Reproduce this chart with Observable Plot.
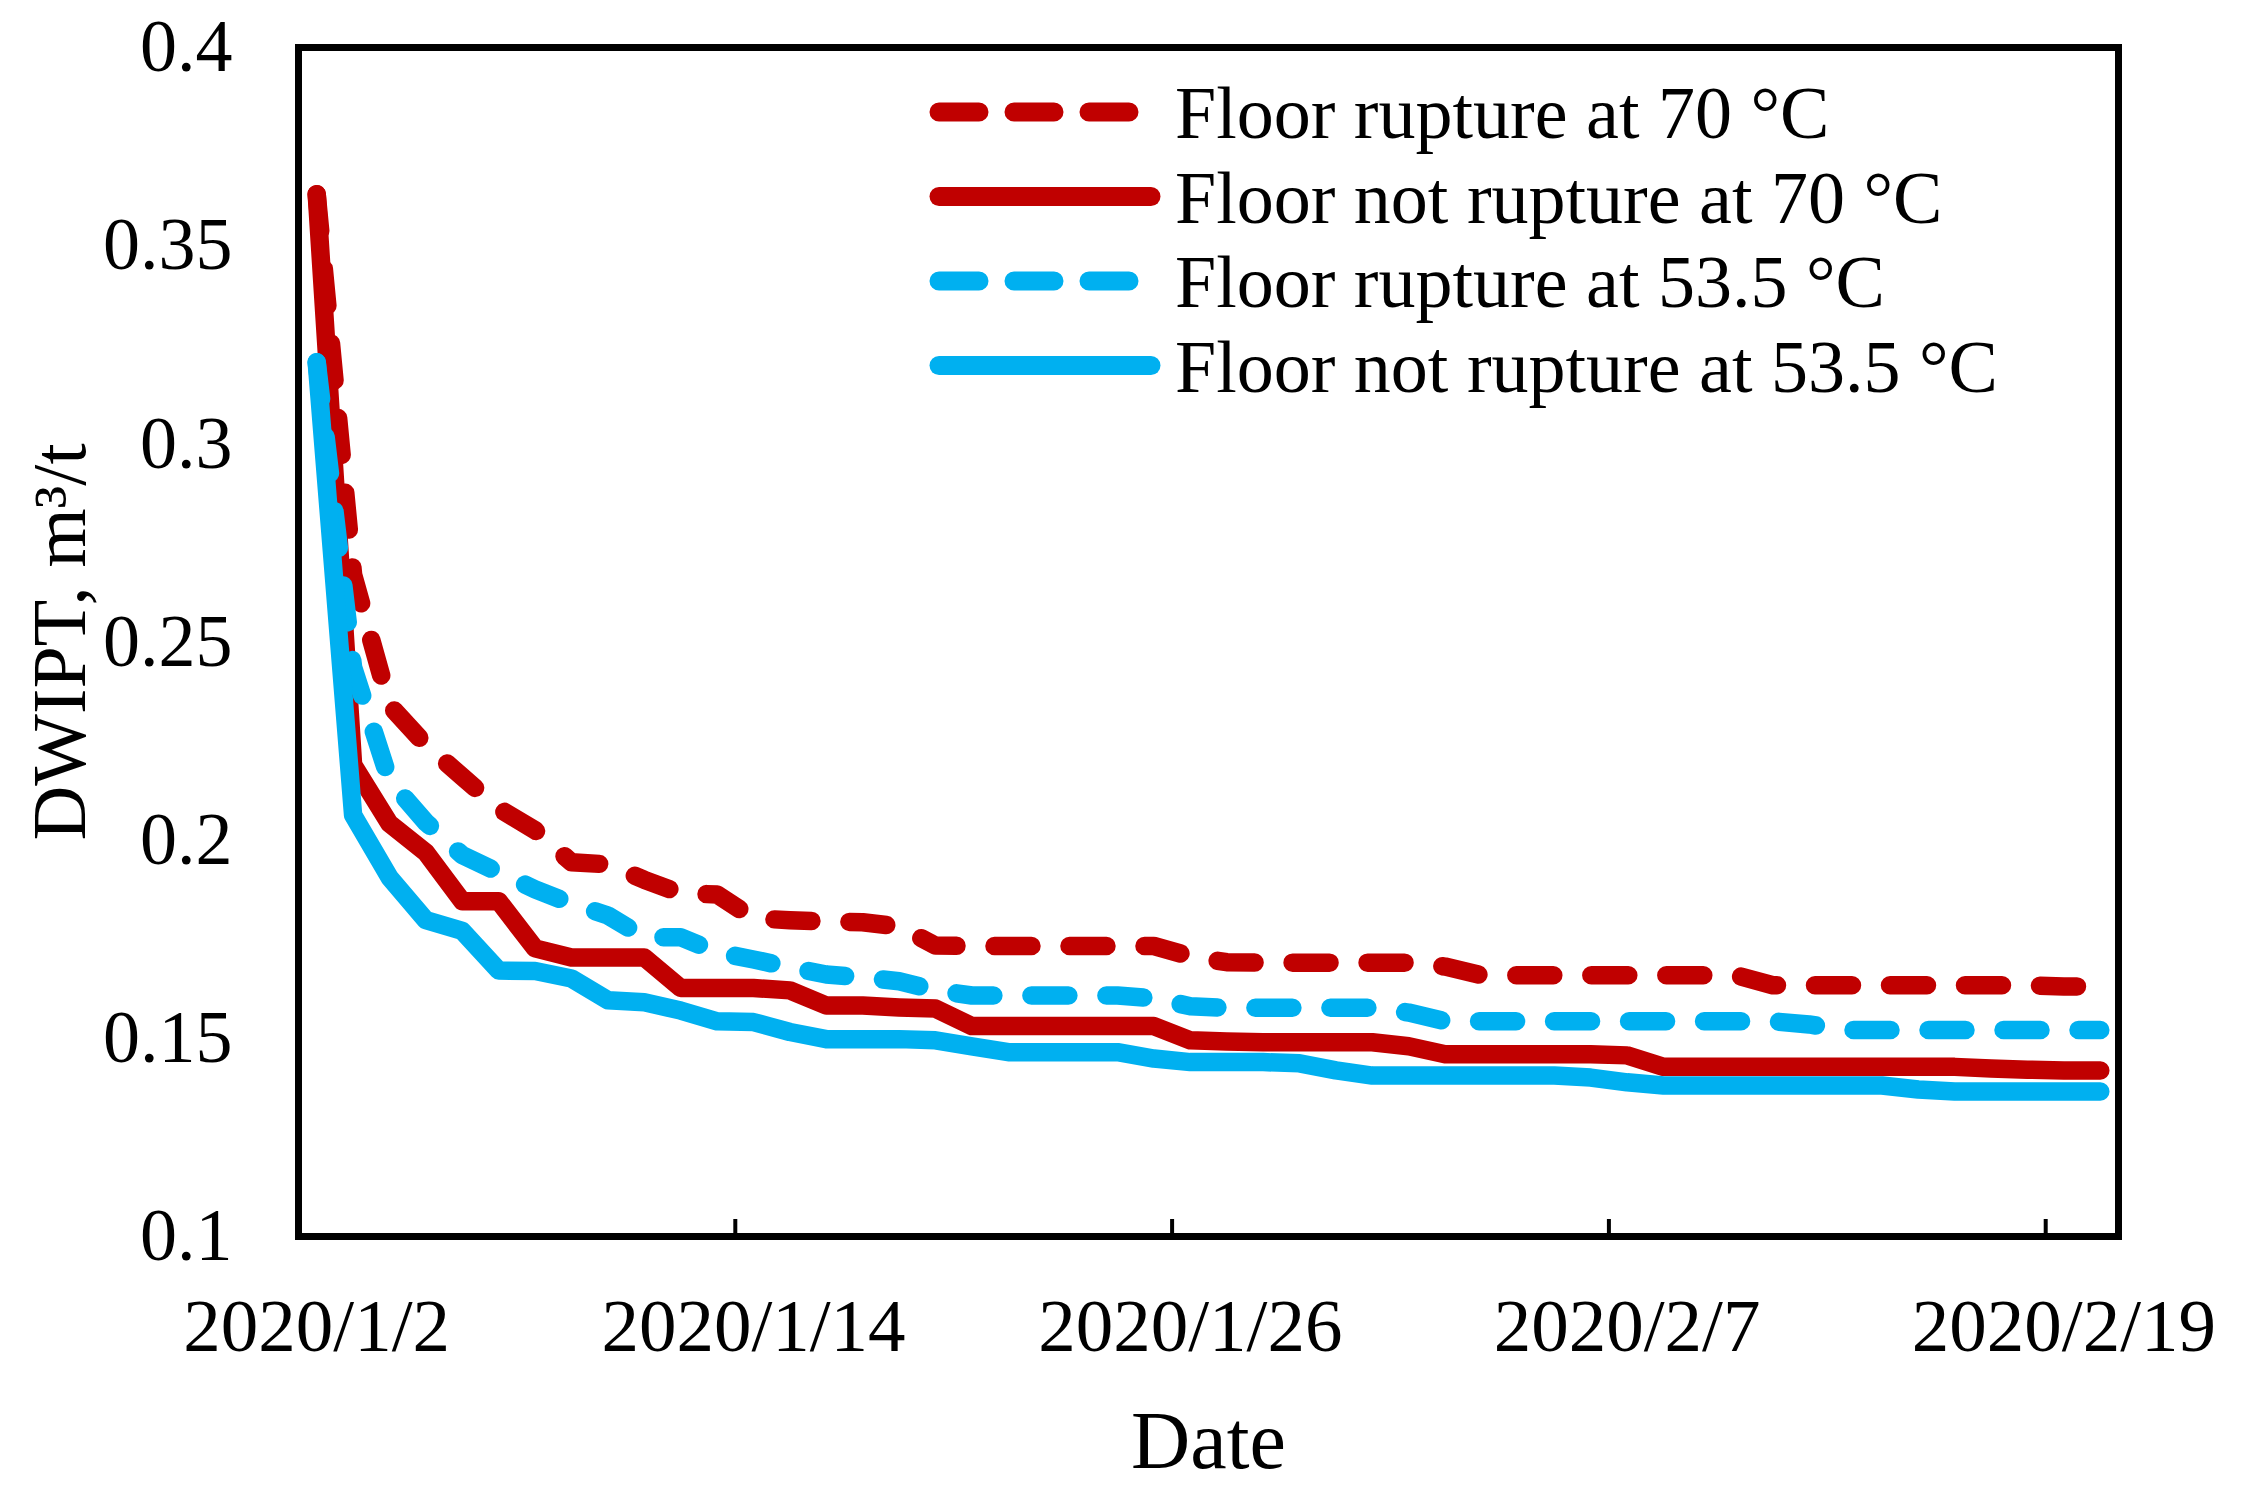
<!DOCTYPE html>
<html>
<head>
<meta charset="utf-8">
<script src="https://cdn.jsdelivr.net/npm/d3@7"></script>
<script src="https://cdn.jsdelivr.net/npm/@observablehq/plot@0.6"></script>
<style>
  html, body { margin: 0; padding: 0; background: #fff; }
  #wrap { position: relative; width: 2248px; height: 1501px; overflow: hidden; }
  #wrap svg { display: block; }
  #legend { position: absolute; left: 0; top: 0; pointer-events: none; }
</style>
</head>
<body>
<div id="wrap"></div>
<script>
// ---------- data ----------
const startDay = new Date(Date.UTC(2020, 0, 2));
const endDay = new Date(Date.UTC(2020, 1, 21));           // exclusive -> 50 daily categories
const days = d3.utcDay.range(startDay, endDay);

const seriesNames = [
  "Floor rupture at 70 °C",
  "Floor not rupture at 70 °C",
  "Floor rupture at 53.5 °C",
  "Floor not rupture at 53.5 °C"
];

// Floor rupture at 70 °C (red dashed)
const rupture70 = [
  0.363, 0.267, 0.234, 0.224, 0.216, 0.208, 0.2025, 0.1944, 0.1939, 0.190,
  0.1866, 0.1863, 0.1803, 0.1798, 0.1795, 0.1793, 0.1782, 0.1734, 0.1733, 0.1733,
  0.1733, 0.1733, 0.1733, 0.1733, 0.1707, 0.1692, 0.1691, 0.1691, 0.1691, 0.1691,
  0.1691, 0.1681, 0.1659, 0.1659, 0.1659, 0.1659, 0.1659, 0.1659, 0.1659, 0.1659,
  0.1634, 0.1634, 0.1634, 0.1634, 0.1634, 0.1634, 0.1634, 0.1634, 0.1631, 0.1631
];
// Floor not rupture at 70 °C (red solid)
const notRupture70 = [
  0.363, 0.219, 0.2042, 0.1969, 0.1846, 0.1846, 0.1727, 0.1704, 0.1704, 0.1704,
  0.1627, 0.1627, 0.1627, 0.1621, 0.1583, 0.1583, 0.1578, 0.1575, 0.1531, 0.1531,
  0.1531, 0.1531, 0.1531, 0.1531, 0.1495, 0.1492, 0.149, 0.149, 0.149, 0.149,
  0.148, 0.146, 0.146, 0.146, 0.146, 0.146, 0.1457, 0.1428, 0.1428, 0.1428,
  0.1428, 0.1428, 0.1428, 0.1428, 0.1428, 0.1428, 0.1424, 0.1421, 0.1419, 0.1419
];
// Floor rupture at 53.5 °C (blue dashed)
const rupture53 = [
  0.3206, 0.2436, 0.2151, 0.2045, 0.1962, 0.1919, 0.1876, 0.184, 0.181, 0.1755,
  0.1755, 0.1717, 0.1699, 0.1679, 0.1661, 0.1654, 0.1644, 0.1621, 0.1608, 0.1608,
  0.1608, 0.1608, 0.1608, 0.1601, 0.1581, 0.1577, 0.1577, 0.1577, 0.1577, 0.1577,
  0.1565, 0.1543, 0.1543, 0.1543, 0.1543, 0.1543, 0.1543, 0.1543, 0.1543, 0.1543,
  0.1543, 0.1535, 0.1521, 0.1521, 0.1521, 0.1521, 0.1521, 0.1521, 0.1521, 0.1521
];
// Floor not rupture at 53.5 °C (blue solid)
const notRupture53 = [
  0.3206, 0.2063, 0.1906, 0.1798, 0.1771, 0.1671, 0.167, 0.1651, 0.1596, 0.1591,
  0.157, 0.1543, 0.1541, 0.1516, 0.1498, 0.1498, 0.1498, 0.1495, 0.148, 0.1465,
  0.1465, 0.1465, 0.1465, 0.1449, 0.144, 0.144, 0.144, 0.1437, 0.1419, 0.1406,
  0.1406, 0.1406, 0.1406, 0.1406, 0.1406, 0.1401, 0.1389, 0.1381, 0.1381, 0.1381,
  0.1381, 0.1381, 0.1381, 0.1381, 0.1371, 0.1366, 0.1366, 0.1366, 0.1366, 0.1366
];

const yTickValues = [0.1, 0.15, 0.2, 0.25, 0.3, 0.35, 0.4];
const yTickLabels = ["0.1", "0.15", "0.2", "0.25", "0.3", "0.35", "0.4"];
const xTickDates = ["2020-01-02", "2020-01-14", "2020-01-26", "2020-02-07", "2020-02-19"].map(s => new Date(s + "T00:00:00Z"));
const xTickLabels = ["2020/1/2", "2020/1/14", "2020/1/26", "2020/2/7", "2020/2/19"];
const xTitle = "Date";
const yTitle = "DWIPT, m³/t";

// ---------- styles ----------
const RED = "#C00000";
const BLUE = "#00B0F0";
const seriesColors = [RED, RED, BLUE, BLUE];
const seriesDashed = [true, false, true, false];
const seriesValues = [rupture70, notRupture70, rupture53, notRupture53];
const FONT = "'Liberation Serif', 'Times New Roman', serif";
const LW = 18.5;
const DASH = "37,38";

const HALF_DAY = 12 * 3600 * 1000;
// category boundaries (tick marks sit between categories)
const tickBoundaries = xTickDates.slice(1).map(d => new Date(+d - HALF_DAY));

const W = 2248, H = 1501;
const mL = 298, mR = 130, mT = 47, mB = 265;
const frameH = H - mT - mB;

const lineMarks = seriesValues.map((vals, k) =>
  Plot.line(days, {
    x: d => d,
    y: (d, i) => vals[i],
    stroke: seriesColors[k],
    strokeWidth: LW,
    strokeDasharray: seriesDashed[k] ? DASH : null,
    strokeLinecap: "round",
    strokeLinejoin: "round"
  })
);

const chart = Plot.plot({
  width: W,
  height: H,
  marginLeft: mL,
  marginRight: mR,
  marginTop: mT,
  marginBottom: mB,
  style: { fontFamily: FONT, background: "#fff", color: "#000" },
  x: { type: "utc", domain: [new Date(+startDay - HALF_DAY), new Date(+endDay - HALF_DAY)], axis: null },
  y: { domain: [0.1, 0.4], axis: null },
  marks: [
    ...lineMarks,
    Plot.ruleX(tickBoundaries, { x: d => d, insetTop: frameH - 17, stroke: "#000", strokeWidth: 4 }),
    Plot.frame({ stroke: "#000", strokeWidth: 7 }),
    Plot.text(yTickValues, {
      y: d => d, text: (d, i) => yTickLabels[i], frameAnchor: "left", dx: -66,
      textAnchor: "end", lineAnchor: "middle", fontSize: 74, fill: "#000"
    }),
    Plot.text(xTickDates, {
      x: d => d, text: (d, i) => xTickLabels[i], frameAnchor: "bottom", dy: 90,
      textAnchor: "middle", lineAnchor: "middle", fontSize: 75, fill: "#000"
    }),
    Plot.text([xTitle], {
      text: d => d, frameAnchor: "bottom", dy: 205, lineAnchor: "middle", fontSize: 82, fill: "#000"
    }),
    Plot.text([yTitle], {
      text: d => d, frameAnchor: "left", dx: -238, rotate: -90,
      textAnchor: "middle", lineAnchor: "middle", fontSize: 76, fill: "#000"
    })
  ]
});

const wrap = document.getElementById("wrap");
wrap.appendChild(chart);

// ---------- legend (inside the plot area, top right) ----------
const legendX0 = 939, legendX1 = 1151, legendTextX = 1175, legendY0 = 112, legendStep = 84.5;
const leg = d3.select(wrap).append("svg")
  .attr("id", "legend")
  .attr("width", W).attr("height", H);
seriesNames.forEach((name, k) => {
  const cy = legendY0 + k * legendStep;
  leg.append("line")
    .attr("x1", legendX0).attr("x2", legendX1)
    .attr("y1", cy).attr("y2", cy)
    .attr("stroke", seriesColors[k])
    .attr("stroke-width", 19)
    .attr("stroke-linecap", "round")
    .attr("stroke-dasharray", seriesDashed[k] ? "40,35" : null);
  leg.append("text")
    .attr("x", legendTextX)
    .attr("y", cy + 26)
    .attr("font-family", FONT)
    .attr("font-size", 74)
    .attr("fill", "#000")
    .text(name);
});
</script>
</body>
</html>
